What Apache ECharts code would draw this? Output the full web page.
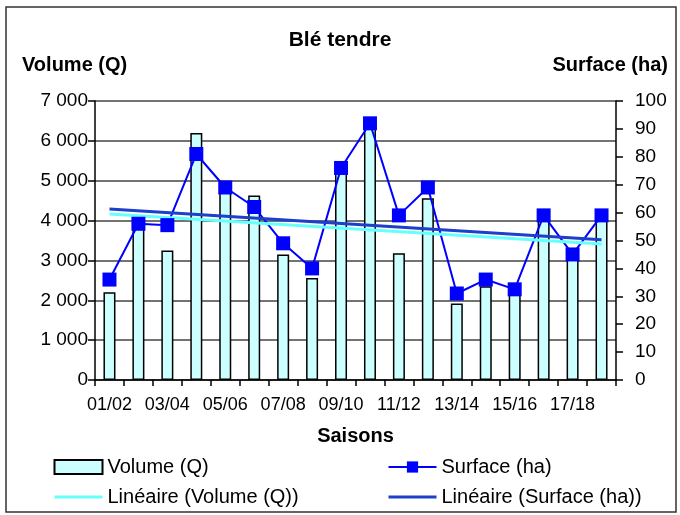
<!DOCTYPE html>
<html>
<head>
<meta charset="utf-8">
<title>Blé tendre</title>
<script src="https://cdn.jsdelivr.net/npm/echarts@6/dist/echarts.min.js"></script>
<style>
  html, body { margin: 0; padding: 0; background: #fff; }
  #chart { width: 680px; height: 515px; }
</style>
</head>
<body>
<div id="chart"></div>
<script>
// data
const seasons = ['01/02', '02/03', '03/04', '04/05', '05/06', '06/07', '07/08', '08/09', '09/10',
  '10/11', '11/12', '12/13', '13/14', '14/15', '15/16', '16/17', '17/18', '18/19'];
const volume = [2200, 3950, 3250, 6200, 4850, 4630, 3150, 2560, 5300,
  6600, 3180, 4560, 1920, 2350, 2200, 4050, 3100, 4000];
const surface = [36, 56, 55.5, 81, 69, 62, 49, 40, 76,
  92, 59, 69, 31, 36, 32.5, 59, 45, 59];
// trend lines: values read at the first and last season
const volumeTrend = [4165, 3410];
const surfaceTrend = [61.3, 50.3];

const font = 'Liberation Sans, Arial, sans-serif';

function endpoints(pair) {
  return seasons.map((s, i) => {
    if (i === 0) return pair[0];
    if (i === seasons.length - 1) return pair[1];
    return null;
  });
}

function thousands(v) {
  return String(v).replace(/\B(?=(\d{3})+(?!\d))/g, ' ');
}

const chart = echarts.init(document.getElementById('chart'));

chart.setOption({
  backgroundColor: '#fff',
  animation: false,
  textStyle: { fontFamily: font, color: '#000' },
  title: [
    { text: 'Blé tendre', left: 'center', top: 25,
      textStyle: { fontSize: 21, fontWeight: 'bold', fontFamily: font, color: '#000' } },
    { text: 'Volume (Q)', left: 17, top: 50,
      textStyle: { fontSize: 20, fontWeight: 'bold', fontFamily: font, color: '#000' } },
    { text: 'Surface (ha)', right: 7, top: 50,
      textStyle: { fontSize: 20, fontWeight: 'bold', fontFamily: font, color: '#000' } }
  ],
  graphic: [{
    type: 'rect',
    shape: { x: 6, y: 7, width: 670, height: 505 },
    style: { fill: null, stroke: '#333', lineWidth: 1.5 },
    silent: true
  }],
  grid: { left: 95, right: 64, top: 101, bottom: 135 },
  legend: [
    {
      orient: 'vertical', left: 48, top: 452, itemGap: 10,
      itemWidth: 48, itemHeight: 14,
      textStyle: { fontSize: 20, fontFamily: font, color: '#000' },
      data: [
        { name: 'Volume (Q)', icon: 'rect' },
        { name: 'Linéaire (Volume (Q))', itemStyle: { opacity: 0 }, lineStyle: { width: 3 } }
      ]
    },
    {
      orient: 'vertical', left: 382, top: 452, itemGap: 10,
      itemWidth: 48, itemHeight: 14,
      textStyle: { fontSize: 20, fontFamily: font, color: '#000' },
      data: [
        { name: 'Surface (ha)', lineStyle: { width: 2 } },
        { name: 'Linéaire (Surface (ha))', itemStyle: { opacity: 0 }, lineStyle: { width: 3 } }
      ]
    }
  ],
  xAxis: {
    type: 'category',
    data: seasons,
    boundaryGap: true,
    name: 'Saisons',
    nameLocation: 'middle',
    nameGap: 46,
    nameTextStyle: { fontSize: 20, fontWeight: 'bold', color: '#000' },
    axisLine: { lineStyle: { color: '#000', width: 1.5 } },
    axisTick: { show: true, interval: 0, length: 6, lineStyle: { color: '#000', width: 1.5 } },
    axisLabel: { interval: 1, fontSize: 18, color: '#000', margin: 16 }
  },
  yAxis: [
    {
      type: 'value', min: 0, max: 7000, interval: 1000,
      axisLine: { show: true, lineStyle: { color: '#000', width: 1.5 } },
      axisTick: { show: true, length: 7, lineStyle: { color: '#000', width: 1.5 } },
      axisLabel: { fontSize: 19, color: '#000', margin: 7, formatter: thousands },
      splitLine: { show: true, lineStyle: { color: '#444', width: 1.5 } }
    },
    {
      type: 'value', min: 0, max: 100, interval: 10,
      axisLine: { show: true, lineStyle: { color: '#000', width: 1.5 } },
      axisTick: { show: true, length: 7, lineStyle: { color: '#000', width: 1.5 } },
      axisLabel: { fontSize: 19, color: '#000', margin: 19 },
      splitLine: { show: false }
    }
  ],
  series: [
    {
      name: 'Volume (Q)',
      type: 'bar',
      data: volume,
      barWidth: 12,
      itemStyle: { color: '#CCFFFF', borderColor: '#000', borderWidth: 1.5 }
    },
    {
      name: 'Surface (ha)',
      type: 'line',
      yAxisIndex: 1,
      data: surface,
      symbol: 'rect',
      symbolSize: 14,
      itemStyle: { color: '#0000FF' },
      lineStyle: { color: '#0000FF', width: 2 }
    },
    {
      name: 'Linéaire (Volume (Q))',
      type: 'line',
      data: endpoints(volumeTrend),
      connectNulls: true,
      symbol: 'none',
      itemStyle: { color: '#66FFFF' },
      lineStyle: { color: '#66FFFF', width: 3 }
    },
    {
      name: 'Linéaire (Surface (ha))',
      type: 'line',
      yAxisIndex: 1,
      data: endpoints(surfaceTrend),
      connectNulls: true,
      symbol: 'none',
      itemStyle: { color: '#1C3FCC' },
      lineStyle: { color: '#1C3FCC', width: 3 }
    }
  ]
});
</script>
</body>
</html>
